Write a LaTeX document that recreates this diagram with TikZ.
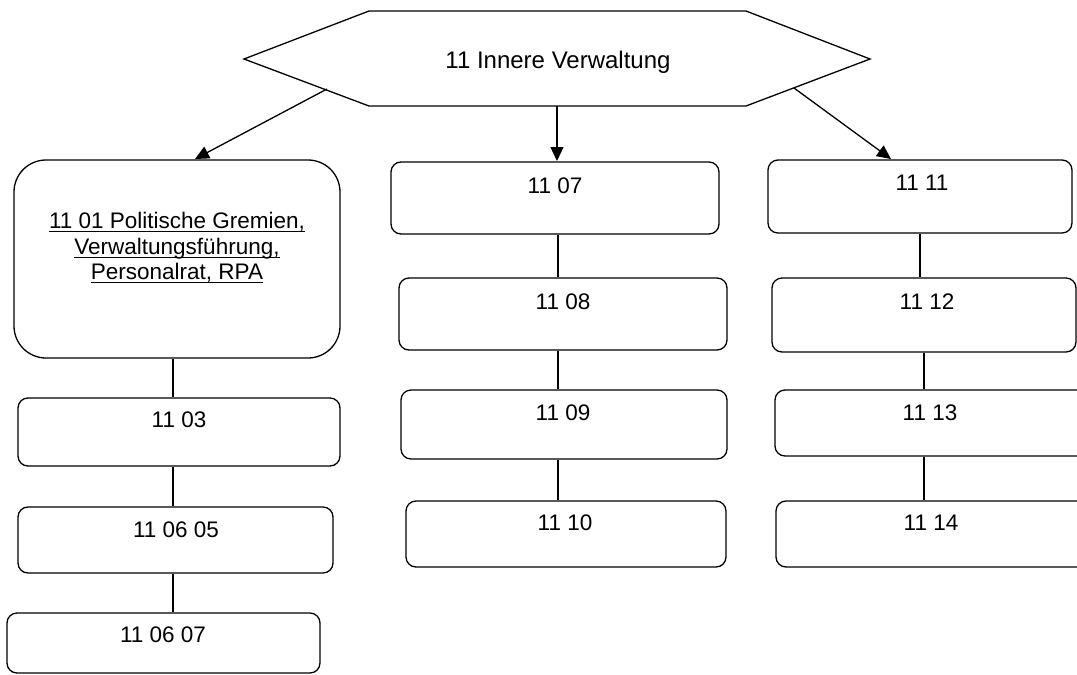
\documentclass[tikz,border=0pt]{standalone}
\usepackage{fontspec}
\setmainfont{Liberation Sans}
\usetikzlibrary{arrows.meta}
\newcommand\mkbox[6]{%
  \node[ebox, rounded corners=#6, minimum width={#4-#2}, minimum height={#5-#3}]
    (#1) at ({(#2+#4)/2},{(#3+#5)/2}) {};}
\begin{document}
\begin{tikzpicture}[x=1pt,y=-1pt,
  ebox/.style={draw, line width=1.3pt, inner sep=0pt},
  btext/.style={anchor=base, font=\fontsize{22.5}{25.5}\selectfont, inner sep=0pt, align=center},
  ttext/.style={anchor=base, font=\fontsize{24}{28}\selectfont, inner sep=0pt},
  uline/.style={line width=1.1pt},
  conn/.style={line width=1.3pt},
  arr/.style={line width=1.3pt, -{Triangle[length=14pt,width=13pt]}}]
\clip (0,0) rectangle (1077,675);
\fill[white] (0,0) rectangle (1077,675);

% hexagon
\coordinate (hL) at (244,59);
\coordinate (hTL) at (369,11);
\coordinate (hTR) at (746,11);
\coordinate (hR) at (870,59);
\coordinate (hBR) at (746,106);
\coordinate (hBL) at (369,106);
\draw[line width=1.3pt, line join=miter] (hL) -- (hTL) -- (hTR) -- (hR) -- (hBR) -- (hBL) -- cycle;
\node[ttext] (title) at (558,68) {11 Innere Verwaltung};

% boxes
\mkbox{b01}{14}{160}{340}{358}{32pt}
\mkbox{b03}{18}{398}{340}{466}{10pt}
\mkbox{b0605}{18}{507}{333}{573}{10pt}
\mkbox{b0607}{7}{613}{320}{673}{10pt}
\mkbox{b07}{391}{162}{719}{234}{10pt}
\mkbox{b08}{399}{278}{727}{350}{10pt}
\mkbox{b09}{401}{390}{727}{459}{10pt}
\mkbox{b10}{406}{501}{726}{567}{10pt}
\mkbox{b11}{768}{160}{1072}{233}{10pt}
\mkbox{b12}{772}{278}{1076}{352}{10pt}
\mkbox{b13}{775}{390}{1095}{456}{10pt}
\mkbox{b14}{776}{501}{1095}{567}{10pt}

% texts
\node[btext] (t01a) at (177,228) {11 01 Politische Gremien,};
\node[btext] (t01b) at (177,254) {Verwaltungsführung,};
\node[btext] (t01c) at (177,279) {Personalrat, RPA};
\foreach \n in {t01a,t01b,t01c}
  \draw[uline] ([yshift=-3.5pt]\n.base west) -- ([yshift=-3.5pt]\n.base east);
\node[btext] (t03) at (179,427) {11 03};
\node[btext] (t0605) at (176,537) {11 06 05};
\node[btext] (t0607) at (163,642) {11 06 07};
\node[btext] (t07) at (555,193) {11 07};
\node[btext] (t08) at (563,309) {11 08};
\node[btext] (t09) at (563,420) {11 09};
\node[btext] (t10) at (565,530) {11 10};
\node[btext] (t11) at (922,190) {11 11};
\node[btext] (t12) at (927,309) {11 12};
\node[btext] (t13) at (930,420) {11 13};
\node[btext] (t14) at (931,530) {11 14};

% arrows
\coordinate (a1s) at (327,89);
\coordinate (a1e) at (195,159);
\coordinate (a2s) at (557,106);
\coordinate (a2e) at (557,161);
\coordinate (a3s) at (794,88);
\coordinate (a3e) at (891,159);
\draw[arr] (a1s) -- (a1e);
\draw[arr] (a2s) -- (a2e);
\draw[arr] (a3s) -- (a3e);

% connectors
\coordinate (lx) at (173,0);
\coordinate (mx) at (558,0);
\coordinate (rx1) at (920,0);
\coordinate (rx2) at (924,0);
\draw[conn] (b01.south -| lx) -- (b03.north -| lx);
\draw[conn] (b03.south -| lx) -- (b0605.north -| lx);
\draw[conn] (b0605.south -| lx) -- (b0607.north -| lx);
\draw[conn] (b07.south -| mx) -- (b08.north -| mx);
\draw[conn] (b08.south -| mx) -- (b09.north -| mx);
\draw[conn] (b09.south -| mx) -- (b10.north -| mx);
\draw[conn] (b11.south -| rx1) -- (b12.north -| rx1);
\draw[conn] (b12.south -| rx2) -- (b13.north -| rx2);
\draw[conn] (b13.south -| rx2) -- (b14.north -| rx2);
\end{tikzpicture}
\end{document}
